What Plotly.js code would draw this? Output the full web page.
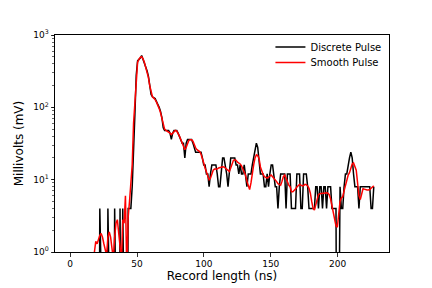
<!DOCTYPE html>
<html>
<head>
<meta charset="utf-8">
<script src="https://cdn.plot.ly/plotly-3.0.1.min.js"></script>
<style>html,body{margin:0;padding:0;background:#fff;}#chart{width:432px;height:288px;}</style>
</head>
<body>
<div id="chart"></div>
<script>
// Sample timing (ns)
const T0 = 0;
const DT = 1.009;

// Discrete pulse (mV), one value per sample
const discretePulse = [
  0,0,0,0,0,0,0,0,0,0, 0,0,0,0,0,0,0,0,0,0, 0,0,4,0,0,0,0,0,4,0,
  0,0,0,4,0,0,0,4,0,4, 0,0,0,4,4,4,8,36,80,280,
  440,460,480,520,460,420,360,320,270,200, 150,140,136,132,120,112,100,88,72,52,
  48,48,48,48,44,36,44,48,48,48, 44,40,36,32,32,20,32,36,36,36,
  36,32,28,24,24,24,24,24,20,16, 16,12,12,8,12,16,16,16,16,12,
  8,8,12,20,20,16,12,8,12,20, 20,20,20,16,16,12,16,12,12,16,
  12,8,12,12,12,16,20,24,32,28, 20,12,12,12,8,8,12,8,12,16,
  16,12,8,8,4,8,12,12,12,12, 4,12,12,12,4,4,4,4,12,12,
  12,4,4,12,12,12,8,4,4,4, 4,4,8,8,4,8,8,4,8,8,
  4,8,8,8,4,4,4,4,0,0, 8,4,4,8,12,12,16,20,24,20,
  12,8,8,8,4,8,8,8,8,8, 8,8,8,4,4,8
];

// Smooth pulse (mV), one value per sample
const smoothPulse = [
  0,0,0,0,0,0,0,0,0,0, 0,0,0,0,0,0,0,0,1.0,1.4,
  1.3,1.5,1.7,1.8,1.6,1.3,1.0,0.9,1.6,1.9, 1.6,1.1,0.8,1.6,2.5,2.8,2.0,1.2,0.7,2.8,
  2.5,6.0,0.5,3.0,5.0,8.0,16,60,120,280,
  420,460,490,500,470,420,360,310,260,200, 160,140,134,128,118,108,96,84,70,58,
  50,48,47,46,44,42,44,46,48,47, 44,40,36,32,28,26,28,32,35,35.5,
  35.5,34,30,27.5,26,25,24.5,22.5,20,17, 14.5,12.5,11,10,10.5,12,13.5,14,14,14,
  14.5,14.7,15,15.1,15,14.5,14,13.5,13,14.5, 16.5,18.5,18.8,18.5,17.5,17,16.5,15.5,14,13,
  11.5,9.5,8.3,7.3,9,12.5,16,20,22,21.5, 19.5,15,12.8,11.8,11,10.7,10.5,10.8,11.3,11.6,
  11,10.5,10,9.4,8.8,8.5,8.4,9.5,11,11.6, 10.5,9,8.4,8,6.8,6.8,7,7.4,7.9,8.4,
  8.6,8.4,8.2,8.3,8.6,8.5,8.2,7.6,6.5,5, 4,3.8,4.5,5.5,6.2,6.4,6.5,6.5,6.5,6.6,
  6.6,6.5,6.2,5.4,4.4,3.6,2.8,2.3,2.2,3.2, 5,5.6,5.8,7,8.5,10,11.5,12.5,15,16.5,
  17,15.5,13.5,9,6,5.3,6.5,7.5,7.4,7.2, 7.2,7.2,7.3,7.6,8,8.2
];

const xTickVals = [0, 50, 100, 150, 200];
const yTickVals = [1, 10, 100, 1000];
const yTickText = ['10<sup>0</sup>', '10<sup>1</sup>', '10<sup>2</sup>', '10<sup>3</sup>'];

// Non-positive values are clipped far below the axis (like a log-scale clip)
const LOG_FLOOR = 1e-4;
const clip = v => (v > 0 ? v : LOG_FLOOR);
const timeOf = arr => arr.map((_, i) => T0 + i * DT);

const FONT = 'DejaVu Sans, sans-serif';
const legendStyle = {
  xanchor: 'left', yanchor: 'middle',
  bgcolor: 'rgba(0,0,0,0)', borderwidth: 0,
  font: {family: FONT, size: 10, color: '#000000'}
};

const traces = [
  {
    x: timeOf(discretePulse), y: discretePulse.map(clip),
    type: 'scatter', mode: 'lines', name: 'Discrete Pulse', legend: 'legend',
    line: {color: '#000000', width: 1.5}
  },
  {
    x: timeOf(smoothPulse), y: smoothPulse.map(clip),
    type: 'scatter', mode: 'lines', name: 'Smooth Pulse', legend: 'legend2',
    line: {color: '#ff0000', width: 1.5}
  }
];

const layout = {
  width: 432, height: 288,
  margin: {l: 55, r: 43, t: 35, b: 36, pad: 0},
  paper_bgcolor: '#ffffff', plot_bgcolor: '#ffffff',
  font: {family: FONT, color: '#000000'},
  showlegend: true,
  legend: Object.assign({x: 0.645, y: 0.945}, legendStyle),
  legend2: Object.assign({x: 0.645, y: 0.873}, legendStyle),
  xaxis: {
    range: [-11.3, 238.4], autorange: false,
    tickmode: 'array', tickvals: xTickVals,
    ticks: 'outside', ticklen: 3.5, tickwidth: 0.8, tickcolor: '#000',
    showline: true, mirror: true, linecolor: '#000', linewidth: 1,
    showgrid: false, zeroline: false,
    tickfont: {family: FONT, size: 9, color: '#000'},
    title: {text: 'Record length (ns)', font: {family: FONT, size: 12, color: '#000'}, standoff: 3}
  },
  yaxis: {
    type: 'log', range: [0, 3], autorange: false,
    tickmode: 'array', tickvals: yTickVals, ticktext: yTickText,
    ticks: 'outside', ticklen: 3.5, tickwidth: 0.8, tickcolor: '#000',
    minor: {dtick: 'D1', ticks: 'outside', ticklen: 2, tickwidth: 0.6, tickcolor: '#000', showgrid: false},
    showline: true, mirror: true, linecolor: '#000', linewidth: 1,
    showgrid: false, zeroline: false,
    tickfont: {family: FONT, size: 9, color: '#000'},
    title: {text: 'Millivolts (mV)', font: {family: FONT, size: 12, color: '#000'}, standoff: 7}
  }
};

Plotly.newPlot('chart', traces, layout, {staticPlot: true, displayModeBar: false});
</script>
</body>
</html>
